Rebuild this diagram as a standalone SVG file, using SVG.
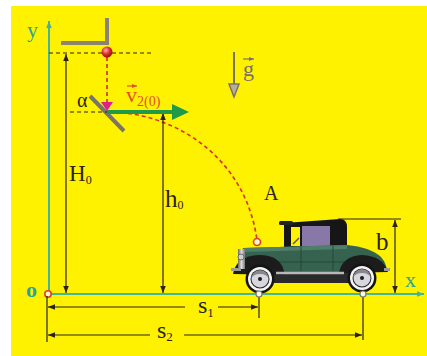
<svg xmlns="http://www.w3.org/2000/svg" width="427" height="356" viewBox="0 0 427 356">
  <defs>
    <style>
      .lbl { font-family: "Liberation Serif", "DejaVu Serif", serif; fill: #2a2418; }
      .axl { font-family: "Liberation Serif", "DejaVu Serif", serif; fill: #2aa39a; }
      .dim { stroke: #2a2418; stroke-width: 1.2; fill: none; }
      .blkdash { stroke: #2a2418; stroke-width: 1.1; stroke-dasharray: 4 3; fill: none; }
      .reddash { stroke: #d8352a; stroke-width: 1.7; stroke-dasharray: 4 3; fill: none; }
      .axis { stroke: #45b59a; stroke-width: 2; fill: none; }
    </style>
    <marker id="ah" viewBox="0 0 10 10" refX="10" refY="5" markerWidth="7" markerHeight="7" markerUnits="userSpaceOnUse" orient="auto-start-reverse">
      <path d="M0,1 L10,5 L0,9 Z" fill="#2a2418"/>
    </marker>
    <marker id="axh" viewBox="0 0 10 10" refX="10" refY="5" markerWidth="7" markerHeight="7" markerUnits="userSpaceOnUse" orient="auto">
      <path d="M0,1 L10,5 L0,9 Z" fill="#45b59a"/>
    </marker>
    <marker id="vh" viewBox="0 0 10 10" refX="10" refY="5" markerWidth="5" markerHeight="5" markerUnits="userSpaceOnUse" orient="auto">
      <path d="M0,1 L10,5 L0,9 Z" fill="#e0502a"/>
    </marker>
    <marker id="gh" viewBox="0 0 10 10" refX="10" refY="5" markerWidth="5" markerHeight="5" markerUnits="userSpaceOnUse" orient="auto">
      <path d="M0,1 L10,5 L0,9 Z" fill="#7a7068"/>
    </marker>
    <radialGradient id="ball" cx="0.4" cy="0.35" r="0.7">
      <stop offset="0" stop-color="#ffb0b0"/>
      <stop offset="0.5" stop-color="#e02a2a"/>
      <stop offset="1" stop-color="#8a1010"/>
    </radialGradient>
    <linearGradient id="chrome" x1="0" y1="0" x2="1" y2="0">
      <stop offset="0" stop-color="#666"/>
      <stop offset="0.5" stop-color="#ddd"/>
      <stop offset="1" stop-color="#777"/>
    </linearGradient>
    <g id="wheel">
      <circle r="14.5" fill="#141414"/>
      <circle r="12" fill="#f4f4f4"/>
      <circle r="9.5" fill="#2a2a2a"/>
      <circle r="8.5" fill="#d8d6de"/>
      <path d="M-8.5,0 A8.5,8.5 0 0 1 8.5,0 A8.5,5 0 0 0 -8.5,0 Z" fill="#8a8690"/>
      <circle r="2" fill="#1a1a1a"/>
    </g>
  </defs>

  <!-- background -->
  <rect x="0" y="0" width="427" height="356" fill="#ffffff"/>
  <rect x="11" y="6" width="416" height="350" fill="#fff200"/>

  <!-- coordinate axes -->
  <g id="axes">
    <line class="axis" x1="49" y1="294" x2="49" y2="21" marker-end="url(#axh)"/>
    <line class="axis" x1="49" y1="294" x2="424" y2="294" marker-end="url(#axh)"/>
    <text class="axl" x="27" y="37" font-size="22">y</text>
    <text class="axl" x="405" y="287" font-size="22">x</text>
    <text class="axl" x="26" y="297" font-size="22" font-weight="bold">o</text>
    <circle cx="48" cy="294" r="3.2" fill="#fff8d0" stroke="#e04020" stroke-width="1.6"/>
  </g>

  <!-- launcher and deflecting plate -->
  <g id="launcher">
    <path d="M61,43 L107,43 L107,18" fill="none" stroke="#8c8272" stroke-width="4"/>
    <line x1="90" y1="96" x2="124" y2="131" stroke="#7a7468" stroke-width="4"/>
    <text class="lbl" x="77" y="107" font-size="20">α</text>
  </g>

  <!-- connectors: guide lines, dimensions and trajectory -->
  <g id="connectors">
    <line class="blkdash" x1="49" y1="53" x2="153" y2="53"/>
    <line class="blkdash" x1="70" y1="112" x2="107" y2="112"/>
    <line class="reddash" x1="107" y1="57" x2="107" y2="103"/>
    <path d="M101,102 L113,102 L107,111 Z" fill="#e0208a"/>
    <path class="reddash" d="M107,112 C178,112 246,160 257,240"/>

    <line class="dim" x1="66" y1="54" x2="66" y2="293" marker-start="url(#ah)" marker-end="url(#ah)"/>
    <line class="dim" x1="163" y1="113" x2="163" y2="293" marker-start="url(#ah)" marker-end="url(#ah)"/>
    <line class="dim" x1="395" y1="220" x2="395" y2="293" marker-start="url(#ah)" marker-end="url(#ah)"/>
    <line class="dim" x1="338" y1="219" x2="401" y2="219"/>

    <line class="dim" x1="47" y1="296" x2="47" y2="342"/>
    <line class="dim" x1="259" y1="297" x2="259" y2="318"/>
    <line class="dim" x1="363" y1="297" x2="363" y2="340"/>
    <line class="dim" x1="185" y1="307" x2="48" y2="307" marker-end="url(#ah)"/>
    <line class="dim" x1="218" y1="307" x2="258" y2="307" marker-end="url(#ah)"/>
    <line class="dim" x1="150" y1="335" x2="48" y2="335" marker-end="url(#ah)"/>
    <line class="dim" x1="184" y1="335" x2="362" y2="335" marker-end="url(#ah)"/>

    <!-- velocity vector -->
    <line x1="107" y1="112" x2="174" y2="112" stroke="#1e9a48" stroke-width="4"/>
    <path d="M172,104 L189,112 L172,120 Z" fill="#1e9a48"/>

    <!-- gravity vector -->
    <line x1="234" y1="52" x2="234" y2="85" stroke="#7a7068" stroke-width="2"/>
    <path d="M229,84 L239,84 L234,97 Z" fill="#b8ae9a" stroke="#7a7068" stroke-width="1.5"/>
  </g>

  <!-- ball -->
  <g id="ball-node">
    <circle cx="107" cy="52" r="5.5" fill="url(#ball)"/>
  </g>

  <!-- labels -->
  <g id="labels">
    <text class="lbl" x="69" y="181" font-size="23">H<tspan font-size="12" dy="3">0</tspan></text>
    <text class="lbl" x="165" y="207" font-size="25">h<tspan font-size="12" dy="2">0</tspan></text>
    <text class="lbl" x="264" y="200" font-size="20">A</text>
    <text class="lbl" x="376" y="250" font-size="25">b</text>
    <text class="lbl" x="198" y="313" font-size="24">s<tspan font-size="13" dy="4">1</tspan></text>
    <text class="lbl" x="157" y="338" font-size="24">s<tspan font-size="13" dy="3">2</tspan></text>
    <text x="126" y="102" font-size="22" font-family="Liberation Serif, DejaVu Serif, serif" fill="#e0502a">v<tspan font-size="14" dy="4">2(0)</tspan></text>
    <line x1="127" y1="86" x2="137" y2="86" stroke="#e0502a" stroke-width="1.2" marker-end="url(#vh)"/>
    <text x="243" y="76" font-size="22" font-family="Liberation Serif, DejaVu Serif, serif" fill="#7a7068">g</text>
    <line x1="243" y1="59" x2="254" y2="59" stroke="#7a7068" stroke-width="1.2" marker-end="url(#gh)"/>
  </g>

  <!-- car -->
  <g id="car">
    <!-- chassis shadow -->
    <path d="M270,272 L350,272 L350,283 L270,283 Z" fill="#2a2a2a"/>
    <!-- roof -->
    <path d="M284,223 L340,219 Q347,219 347,227 L347,249 L284,249 Z" fill="#161616"/>
    <rect x="279" y="221" width="14" height="4" rx="1.5" fill="#222"/>
    <rect x="291" y="227" width="9" height="19" fill="#fff200"/>
    <line x1="293" y1="244" x2="299" y2="238" stroke="#555" stroke-width="1.5"/>
    <rect x="302" y="226" width="28" height="20" fill="#8878a8"/>
    <!-- body -->
    <path d="M243,248 L347,245 Q370,247 381,257 Q387,264 387,272 L240,272 L240,255 Z" fill="#35634f"/>
    <path d="M244,248 L347,245 L347,249 L244,252 Z" fill="#4f7f69"/>
    <line x1="244" y1="262" x2="384" y2="262" stroke="#27493b" stroke-width="1"/>
    <line x1="301" y1="247" x2="301" y2="271" stroke="#27493b" stroke-width="1"/>
    <line x1="333" y1="246" x2="333" y2="271" stroke="#27493b" stroke-width="1"/>
    <!-- fenders -->
    <path d="M233,274 Q236,256 259,255 Q280,255 284,271 L284,275 Z" fill="#1c1c1c"/>
    <path d="M339,273 Q342,256 362,255 Q383,256 388,272 Z" fill="#1c1c1c"/>
    <!-- running board -->
    <line x1="276" y1="273" x2="344" y2="273" stroke="#b8b8b8" stroke-width="2.5"/>
    <!-- radiator, lamp and bumpers -->
    <rect x="238" y="249" width="7" height="20" fill="url(#chrome)"/>
    <circle cx="241" cy="257" r="3" fill="#cfcfcf" stroke="#555" stroke-width="0.8"/>
    <rect x="231" y="268" width="10" height="3" fill="#9a9a9a"/>
    <rect x="384" y="268" width="6" height="3" fill="#9a9a9a"/>
    <!-- wheels -->
    <use href="#wheel" x="260" y="279"/>
    <use href="#wheel" x="362" y="278"/>
    <!-- impact point -->
    <circle cx="257" cy="242" r="3.5" fill="#fff8d0" stroke="#e04020" stroke-width="1.6"/>
  </g>

  <!-- wheel contact points -->
  <g id="contacts">
    <circle cx="259" cy="294" r="3" fill="#fffbe0" stroke="#777" stroke-width="1.2"/>
    <circle cx="363" cy="294" r="3" fill="#fffbe0" stroke="#777" stroke-width="1.2"/>
  </g>
</svg>
